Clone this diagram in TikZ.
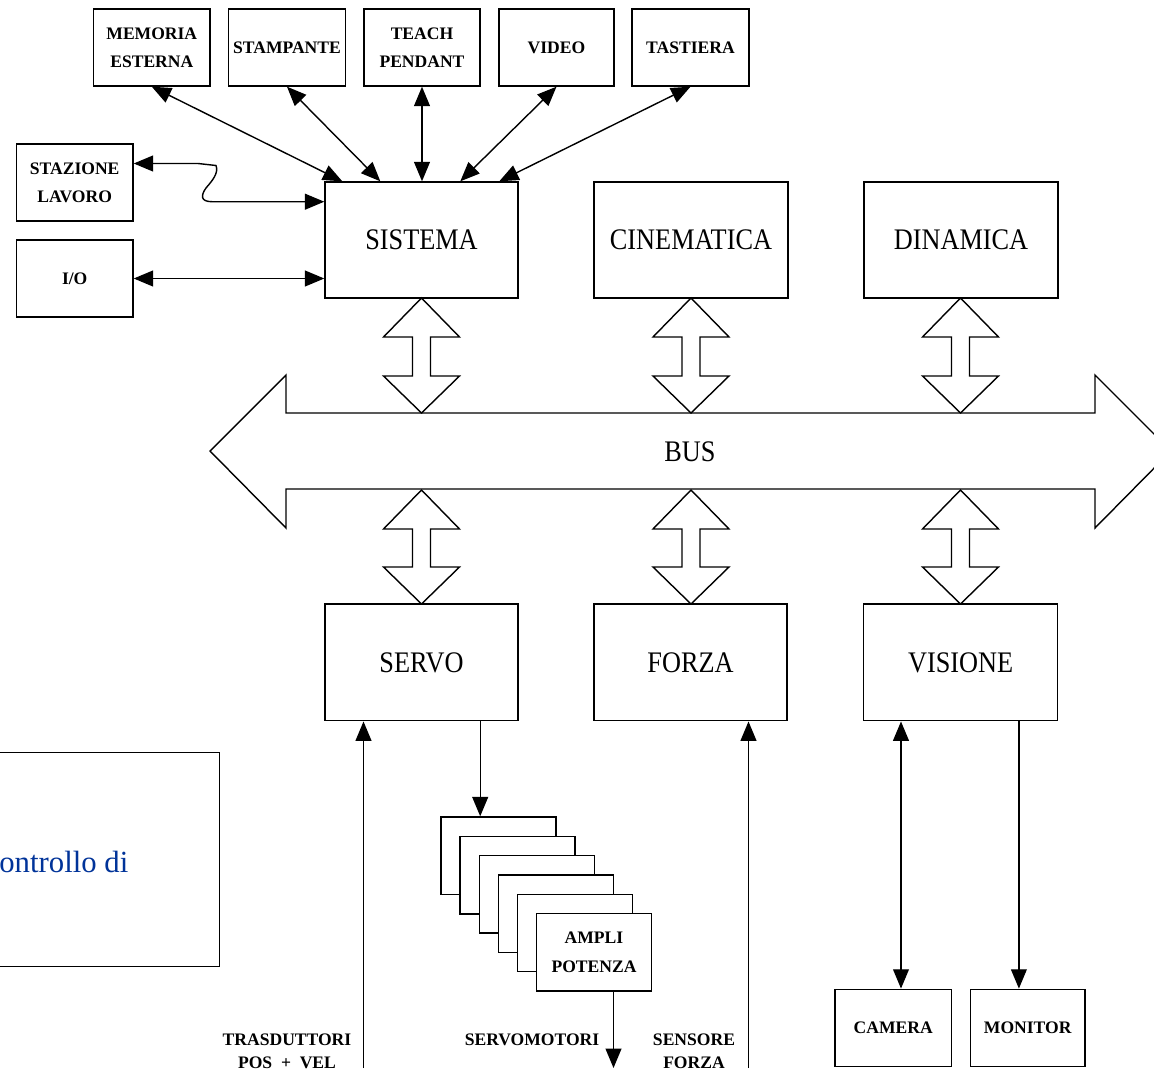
\documentclass[tikz,border=0pt]{standalone}
\usepackage{fontspec}
\setmainfont{Liberation Serif}
\usepackage{graphicx}
\usetikzlibrary{arrows.meta,calc}
\definecolor{txtblue}{RGB}{0,51,153}
\tikzset{
  box/.style={draw, line width=0.8pt, fill=white, inner sep=0pt, align=center},
  wh/.style 2 args={minimum width=#1*0.02cm, minimum height=#2*0.02cm},
  small/.style={font=\bfseries\fontsize{10}{16}\selectfont},
  lbl/.style={font=\bfseries\fontsize{10}{13}\selectfont, align=center, inner sep=0pt},
  big/.style={font=\fontsize{17}{20}\selectfont},
  conn/.style={line width=0.8pt, -{Triangle[length=11pt,width=9pt]}},
  dconn/.style={line width=0.8pt, {Triangle[length=11pt,width=9pt]}-{Triangle[length=11pt,width=9pt]}},
  hollow/.style={draw, line width=0.8pt, fill=white, line join=miter},
}
\newcommand\bigtxt[1]{\scalebox{0.88}[1]{#1}}
\newcommand\hollowarr[3]{%
  \draw[hollow] (#1,#2) -- ++(38,39) -- ++(-29,0) -- (#1+9,#3-37) -- ++(29,0)
    -- (#1,#3) -- ++(-38,-37) -- ++(29,0) -- (#1-9,#2+39) -- ++(-29,0) -- cycle;}
\begin{document}
\begin{tikzpicture}[x=0.02cm, y=-0.02cm]
\useasboundingbox (0,0) rectangle (1154,1072);
\clip (0,0) rectangle (1154,1072);
\fill[white] (0,0) rectangle (1154,1072);

% top peripheral boxes
\node[box, small, wh={116.4}{77}] (mem)   at (151.8,47.5) {MEMORIA\\ESTERNA};
\node[box, small, wh={116.8}{77}] (stamp) at (287,47.5) {STAMPANTE};
\node[box, small, wh={116}{77}]   (teach) at (422,47.5) {TEACH\\PENDANT};
\node[box, small, wh={115}{77}]   (video) at (556.5,47.5) {VIDEO};
\node[box, small, wh={117}{77}]   (tast)  at (690.5,47.5) {TASTIERA};

% left boxes
\node[box, small, wh={116.6}{77}] (sta) at (74.7,182.5) {STAZIONE\\LAVORO};
\node[box, small, wh={116.6}{77}] (io)  at (74.7,278.5) {I/O};

% main modules
\node[box, big, wh={193}{116}] (sis) at (421.5,240) {\bigtxt{SISTEMA}};
\node[box, big, wh={194}{116}] (cin) at (691,240) {\bigtxt{CINEMATICA}};
\node[box, big, wh={194}{116}] (din) at (961,240) {\bigtxt{DINAMICA}};

\node[box, big, wh={193}{116.7}] (servo) at (421.5,662.4) {\bigtxt{SERVO}};
\node[box, big, wh={193}{116.7}] (forza) at (690.5,662.4) {\bigtxt{FORZA}};
\node[box, big, wh={194}{116.7}] (vis)   at (960.7,662.4) {\bigtxt{VISIONE}};

% bus
\draw[hollow] (210,451) -- (286,375) -- (286,413) -- (1095,413) -- (1095,375)
  -- (1171,451) -- (1095,528) -- (1095,489) -- (286,489) -- (286,528) -- cycle;
\node[big] (bus) at (690,452) {\bigtxt{BUS}};

% hollow bus connectors
\hollowarr{421.5}{298}{413}
\hollowarr{691}{298}{413}
\hollowarr{960.5}{298}{413}
\hollowarr{421.5}{490}{604}
\hollowarr{691}{490}{604}
\hollowarr{960.5}{490}{604}

% peripheral connectors
\draw[dconn] (mem.south)   -- ($(sis.north west)+(18,0)$);
\draw[dconn] (stamp.south) -- ($(sis.north west)+(56,0)$);
\draw[dconn] (teach.south) -- (teach.south |- sis.north);
\draw[dconn] (video.south) -- ($(sis.north west)+(136,0)$);
\draw[dconn] (tast.south)  -- ($(sis.north west)+(175,0)$);
\draw[dconn] ($(sta.east)+(0,-19)$) -- (198,163.5) -- (216,165.5)
  .. controls (219,173) and (212,181) .. (206,188)
  .. controls (201,195) and (200,201.7) .. (212,201.7)
  -- ($(sis.west)+(0,-38.3)$);
\draw[dconn] (io.east) -- (io.east -| sis.west);

% amplifier stack
\foreach \k in {0,...,4}
  \node[box, wh={115}{77.5}] (amp\k) at (498.5+19.1*\k, 855.75+19.3*\k) {};
\node[box, small, wh={115}{77.5}] (ampli) at (594,952.25) {AMPLI\\POTENZA};

\draw[conn] ($(servo.south east)+(-38.5,0)$) coordinate (sA) -- (sA |- amp0.north);

% free ends
\coordinate (tpv) at (363.5,1068);
\coordinate (mot) at (613.5,1068);
\coordinate (sf)  at (748.5,1068);
\draw[conn] (tpv) -- (tpv |- servo.south);
\draw[conn] (mot |- ampli.south) -- (mot);
\draw[conn] (sf) -- (sf |- forza.south);

% vision peripherals
\node[box, small, wh={116.4}{77.4}] (cam) at (893.2,1028) {CAMERA};
\node[box, small, wh={114.2}{77.4}] (mon) at (1027.7,1028) {MONITOR};
\draw[dconn] ($(vis.south west)+(38,0)$) coordinate (vc) -- (vc |- cam.north);
\draw[conn] ($(vis.south east)+(-39.5,0)$) coordinate (vm) -- (vm |- mon.north);

% bottom labels
\node[lbl] (ltras) at (287,1051.5) {TRASDUTTORI\\POS\enspace+\enspace VEL};
\node[lbl] (lmot)  at (532,1040) {SERVOMOTORI};
\node[lbl] (lsens) at (694,1051.5) {SENSORE\\FORZA};

% left partially visible box
\node[draw, line width=0.8pt, inner sep=0pt, wh={226}{214}] (ctrl) at (106.7,859.7) {};
\node[anchor=base west, inner sep=0pt, text=txtblue, font=\fontsize{17.5}{20}\selectfont] (ctrltxt) at (-1,872) {ontrollo di};
\end{tikzpicture}
\end{document}
